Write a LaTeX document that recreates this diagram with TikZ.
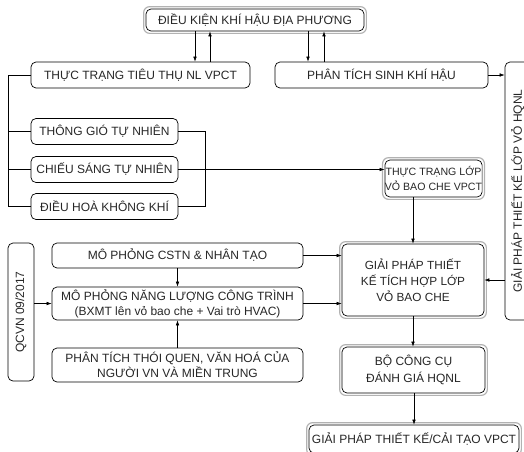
\documentclass[tikz,border=0pt]{standalone}
\usepackage{fontspec}
\setmainfont{Liberation Sans}
\usetikzlibrary{arrows.meta,calc}
\begin{document}
\begin{tikzpicture}[x=1pt,y=-1pt,
  font=\fontsize{12}{15}\selectfont,
  box/.style={draw=black, line width=0.7pt, rounded corners=5pt, align=center, inner sep=1pt, text=black!85},
  outerln/.style={draw=gray!60, line width=1.2pt, rounded corners=6pt},
  arr/.style={-{Latex[length=5pt,width=3.6pt]}, line width=0.6pt},
  ln/.style={line width=0.6pt}]
\useasboundingbox (0,0) rectangle (524,451);

% top level
\node[box, minimum width=218, minimum height=22] (top) at (255,20) {ĐIỀU KIỆN KHÍ HẬU ĐỊA PHƯƠNG};
\node[box, minimum width=219, minimum height=26] (tt) at (140.5,75) {THỰC TRẠNG TIÊU THỤ NL VPCT};
\node[box, minimum width=213, minimum height=26] (ptsk) at (381.5,75) {PHÂN TÍCH SINH KHÍ HẬU};
\node[box, minimum width=25, minimum height=258] (rb) at (517.5,191) {\rotatebox{90}{GIẢI PHÁP THIẾT KẾ LỚP VỎ HQNL}};

% left group
\node[box, minimum width=147, minimum height=26] (tg) at (104.5,131.5) {THÔNG GIÓ TỰ NHIÊN};
\node[box, minimum width=147, minimum height=26] (cs) at (104.5,169.5) {CHIẾU SÁNG TỰ NHIÊN};
\node[box, minimum width=147, minimum height=26] (dh) at (104.5,206.5) {ĐIỀU HOÀ KHÔNG KHÍ};

\node[box, minimum width=97, minimum height=37, inner xsep=0pt, font=\fontsize{10.6}{15}\selectfont] (tl) at (433.5,178.5) {THỰC TRẠNG LỚP\\VỎ BAO CHE VPCT};

% lower group
\node[box, minimum width=26, minimum height=138] (qc) at (21,312) {\rotatebox{90}{QCVN 09/2017}};
\node[box, minimum width=251, minimum height=25] (m1) at (177.5,255.5) {MÔ PHỎNG CSTN \& NHÂN TẠO};
\node[box, minimum width=251, minimum height=33] (m2) at (177.5,303.5) {MÔ PHỎNG NĂNG LƯỢNG CÔNG TRÌNH\\(BXMT lên vỏ bao che + Vai trò HVAC)};
\node[box, minimum width=251, minimum height=34] (m3) at (177.5,365) {PHÂN TÍCH THÓI QUEN, VĂN HOÁ CỦA\\NGƯỜI VN VÀ MIỀN TRUNG};

\node[box, minimum width=142, minimum height=72, font=\fontsize{11.8}{16}\selectfont] (gp) at (413,280) {GIẢI PHÁP THIẾT\\KẾ TÍCH HỢP LỚP\\VỎ BAO CHE};
\node[box, minimum width=143, minimum height=46, font=\fontsize{12}{17}\selectfont] (bc) at (413.5,370) {BỘ CÔNG CỤ\\ĐÁNH GIÁ HQNL};
\node[box, minimum width=210, minimum height=28, inner xsep=0pt] (fin) at (414,439) {GIẢI PHÁP THIẾT KẾ/CẢI TẠO VPCT};

% outer grey borders of the double boxes
\foreach \n in {top,tl,gp,bc,fin}
  \draw[outerln] ([shift={(-2,-2)}]\n.north west) rectangle ([shift={(2,2)}]\n.south east);

% connectors top
\draw[arr] (top.south -| 195,0) -- (tt.north -| 195,0);
\draw[arr] (tt.north -| 210,0) -- (top.south -| 210,0);
\draw[arr] (top.south -| 308,0) -- (ptsk.north -| 308,0);
\draw[arr] (ptsk.north -| 324,0) -- (top.south -| 324,0);
\draw[arr] (ptsk.east) -- (ptsk.east -| rb.west);

% left bracket
\coordinate (lb) at (8,75);
\draw[ln] (tt.west) -- (lb) |- (dh.west);
\draw[ln] (tg.west) -- (tg.west -| lb);
\draw[ln] (cs.west) -- (cs.west -| lb);
% right bracket
\coordinate (rbk) at (205,131.5);
\draw[ln] (tg.east) -- (rbk) |- (dh.east);
\draw[arr] (cs.east) -- (cs.east -| tl.west);

\draw[arr] (tl.south -| gp.north) -- (gp.north);
\draw[arr] (rb.west |- gp.east) -- (gp.east);
\draw[arr] (gp.south) -- (bc.north -| gp.south);
\draw[arr] (bc.south -| fin.north) -- (fin.north);

% lower connectors
\draw[arr] (m1.east) -- (m1.east -| gp.west);
\draw[arr] (m2.east) -- (m2.east -| gp.west);
\draw[arr] (qc.east |- m2.west) -- (m2.west);
\draw[arr] (m1.south) -- (m2.north);
\draw[arr] (m3.north) -- (m2.south);
\end{tikzpicture}
\end{document}
